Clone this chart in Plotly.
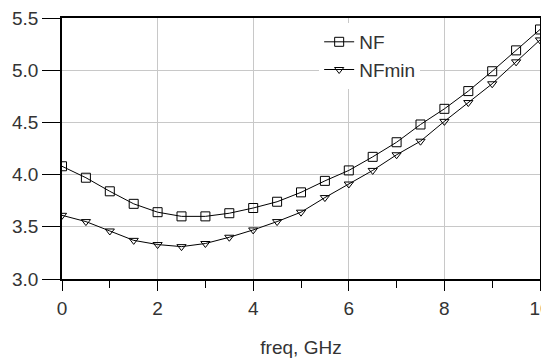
import plotly.graph_objects as go

freq = [0.0, 0.5, 1.0, 1.5, 2.0, 2.5, 3.0, 3.5, 4.0, 4.5, 5.0,
        5.5, 6.0, 6.5, 7.0, 7.5, 8.0, 8.5, 9.0, 9.5, 10.0]
nf = [4.08, 3.97, 3.84, 3.72, 3.64, 3.60, 3.60, 3.63, 3.68, 3.74, 3.83,
      3.94, 4.04, 4.17, 4.31, 4.48, 4.63, 4.80, 4.99, 5.19, 5.39]
nfmin = [3.61, 3.55, 3.46, 3.37, 3.33, 3.31, 3.34, 3.40, 3.47, 3.55, 3.64,
         3.78, 3.91, 4.04, 4.19, 4.32, 4.51, 4.69, 4.87, 5.08, 5.29]
y_ticks = [3.0, 3.5, 4.0, 4.5, 5.0, 5.5]
x_ticks = [0, 2, 4, 6, 8, 10]

FONT = "Liberation Sans, Arial, sans-serif"

fig = go.Figure()
fig.add_trace(go.Scatter(
    x=freq, y=nf, name="NF", mode="lines+markers",
    line=dict(color="black", width=1),
    marker=dict(symbol="square-open", size=9, color="black", line=dict(width=1)),
))
fig.add_trace(go.Scatter(
    x=freq, y=nfmin, name="NFmin", mode="lines+markers",
    line=dict(color="black", width=1),
    marker=dict(symbol="triangle-down-open", size=8, color="black", line=dict(width=1)),
))

# the page body adds an 8px offset, so the figure is 8px smaller
fig.update_layout(
    width=541, height=354,
    margin=dict(l=54, r=9, t=10, b=83, autoexpand=False),
    paper_bgcolor="white", plot_bgcolor="white",
    font=dict(family=FONT, size=19, color="#333333"),
    showlegend=True,
    legend=dict(
        x=0.538, y=0.981, xanchor="left", yanchor="top",
        bgcolor="white", borderwidth=0,
        font=dict(family=FONT, size=19, color="#333333"),
        tracegroupgap=0, itemwidth=30,
    ),
)
fig.update_xaxes(
    range=[0, 10], tickvals=x_ticks, ticktext=[str(v) for v in x_ticks],
    ticks="outside", ticklen=10, tickwidth=1, tickcolor="black",
    minor=dict(dtick=1, ticks="outside", ticklen=7, tickcolor="black", showgrid=False),
    showgrid=True, gridcolor="#c8c8c8", gridwidth=1,
    showline=True, linecolor="black", linewidth=1.5, mirror=True,
    zeroline=False, ticklabelstandoff=1, automargin=False,
    ticklabeloverflow="allow",
    title=dict(text="freq, GHz", standoff=23, font=dict(family=FONT, size=19, color="#333333")),
)
fig.update_yaxes(
    range=[3.0, 5.5], tickvals=y_ticks, ticktext=[f"{v:.1f}" for v in y_ticks],
    ticks="outside", ticklen=18, tickwidth=1, tickcolor="black",
    showgrid=True, gridcolor="#c8c8c8", gridwidth=1,
    showline=True, linecolor="black", linewidth=1.5, mirror=True,
    zeroline=False, automargin=False, ticklabeloverflow="allow",
)

fig.write_html("out.html")
